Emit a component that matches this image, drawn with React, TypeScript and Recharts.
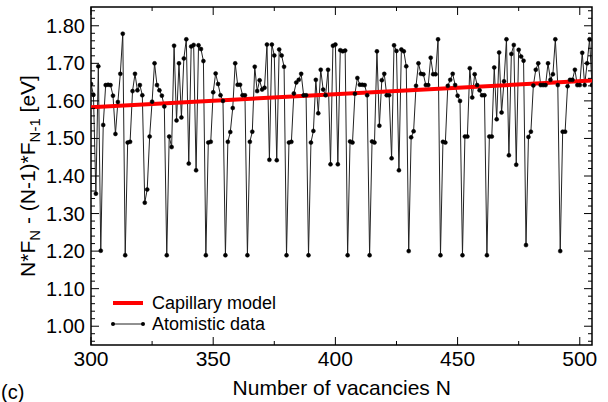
import React from 'react';
import { LineChart, Line, XAxis, YAxis, ReferenceArea, Legend } from 'recharts';

// atomistic data: one value per vacancy count, N = 300 ... 505
const N_START = 300;
const atomisticValues = [
  1.645, 1.616, 1.353, 1.692, 1.201, 1.536, 1.642, 1.643, 1.642, 1.614,
  1.512, 1.597, 1.672, 1.779, 1.189, 1.489, 1.491, 1.626, 1.672, 1.628,
  1.642, 1.615, 1.329, 1.364, 1.505, 1.598, 1.700, 1.642, 1.628, 1.614,
  1.585, 1.189, 1.505, 1.477, 1.747, 1.548, 1.700, 1.556, 1.713, 1.764,
  1.433, 1.745, 1.749, 1.415, 1.748, 1.738, 1.706, 1.189, 1.489, 1.491,
  1.623, 1.673, 1.645, 1.615, 1.600, 1.189, 1.491, 1.517, 1.581, 1.700,
  1.643, 1.643, 1.615, 1.615, 1.189, 1.491, 1.518, 1.691, 1.626, 1.655,
  1.630, 1.635, 1.750, 1.443, 1.750, 1.721, 1.442, 1.737, 1.721, 1.691,
  1.189, 1.489, 1.491, 1.620, 1.649, 1.656, 1.672, 1.615, 1.615, 1.189,
  1.489, 1.520, 1.656, 1.567, 1.683, 1.630, 1.615, 1.683, 1.431, 1.747,
  1.750, 1.431, 1.735, 1.732, 1.734, 1.189, 1.492, 1.489, 1.619, 1.661,
  1.643, 1.643, 1.642, 1.615, 1.189, 1.492, 1.489, 1.732, 1.534, 1.655,
  1.672, 1.615, 1.615, 1.447, 1.748, 1.733, 1.415, 1.737, 1.732, 1.692,
  1.200, 1.503, 1.519, 1.640, 1.700, 1.672, 1.671, 1.642, 1.642, 1.715,
  1.671, 1.671, 1.764, 1.189, 1.491, 1.489, 1.640, 1.656, 1.672, 1.642,
  1.614, 1.600, 1.189, 1.505, 1.505, 1.687, 1.609, 1.671, 1.642, 1.628,
  1.615, 1.615, 1.189, 1.505, 1.505, 1.689, 1.551, 1.729, 1.569, 1.652,
  1.764, 1.455, 1.725, 1.749, 1.430, 1.736, 1.718, 1.707, 1.216, 1.504,
  1.518, 1.641, 1.683, 1.700, 1.642, 1.642, 1.642, 1.700, 1.656, 1.671,
  1.764, 1.642, 1.200, 1.518, 1.518, 1.639, 1.656, 1.656, 1.683, 1.642,
  1.642, 1.728, 1.642, 1.700, 1.764, 1.642,
];

// capillary model, read at both ends of the plot
const capillaryN = [300, 505];
const capillaryValues = [1.583, 1.654];

const xMajorTicks = [300, 350, 400, 450, 500];
const xMinorTicks = [325, 375, 425, 475];
const yMajorTicks = [1.0, 1.1, 1.2, 1.3, 1.4, 1.5, 1.6, 1.7, 1.8];

const atomisticData = atomisticValues.map((v, i) => ({ n: N_START + i, value: v }));
const capillaryData = capillaryN.map((n, i) => ({ n, value: capillaryValues[i] }));

const yMinorTicks: number[] = [];
for (let k = 48; k <= 92; k++) yMinorTicks.push(k / 50);

const FONT = '"Liberation Sans", Arial, Helvetica, sans-serif';
const W = 608;
const H = 402;
const PLOT = { left: 91, right: 592, top: 7, bottom: 345 };

const isMajorY = (v: number) => yMajorTicks.some(t => Math.abs(t - v) < 1e-6);

const XTick = (props: any) => {
  const { x, payload } = props;
  const major = xMajorTicks.includes(payload.value);
  const len = major ? 8 : 4;
  return (
    <g>
      <line x1={x} x2={x} y1={PLOT.bottom} y2={PLOT.bottom - len} stroke="#000" />
      <line x1={x} x2={x} y1={PLOT.top} y2={PLOT.top + len} stroke="#000" />
      {major && (
        <text x={x} y={366} textAnchor="middle" fontSize={21} fontFamily={FONT} fill="#000">
          {payload.value}
        </text>
      )}
    </g>
  );
};

const YTick = (props: any) => {
  const { y, payload } = props;
  const major = isMajorY(payload.value);
  const len = major ? 8 : 4;
  return (
    <g>
      <line x1={PLOT.left} x2={PLOT.left + len} y1={y} y2={y} stroke="#000" />
      <line x1={PLOT.right} x2={PLOT.right - len} y1={y} y2={y} stroke="#000" />
      {major && (
        <text x={PLOT.left - 6} y={y + 7} textAnchor="end" fontSize={20} fontFamily={FONT} fill="#000">
          {payload.value.toFixed(2)}
        </text>
      )}
    </g>
  );
};

const YTitle = () => (
  <text
    transform="translate(35, 176) rotate(-90)"
    textAnchor="middle"
    fontSize={21}
    fontFamily={FONT}
    fill="#000"
  >
    <tspan>N*F</tspan>
    <tspan fontSize={15} dy={5}>N</tspan>
    <tspan dy={-5}> - (N-1)*F</tspan>
    <tspan fontSize={15} dy={5}>N-1</tspan>
    <tspan dy={-5}> [eV]</tspan>
  </text>
);

const XTitle = () => (
  <g>
    <text x={341.7} y={395} textAnchor="middle" fontSize={21} fontFamily={FONT} fill="#000">
      Number of vacancies N
    </text>
    <text x={1} y={399} fontSize={20} fontFamily={FONT} fill="#000">
      (c)
    </text>
  </g>
);

const LegendBox = () => (
  <svg width={200} height={48} style={{ display: 'block' }}>
    <line x1={5} x2={35} y1={13} y2={13} stroke="#ff0000" strokeWidth={4} />
    <text x={44} y={13} dominantBaseline="central" fontSize={18} fontFamily={FONT} fill="#000">
      Capillary model
    </text>
    <line x1={5} x2={35} y1={34} y2={34} stroke="#222" strokeWidth={1} />
    <circle cx={5} cy={34} r={2} fill="#000" />
    <circle cx={35} cy={34} r={2} fill="#000" />
    <text x={44} y={34} dominantBaseline="central" fontSize={18} fontFamily={FONT} fill="#000">
      Atomistic data
    </text>
  </svg>
);

export default function App() {
  return (
    <div style={{ position: 'absolute', left: 0, top: 0, width: W, height: H, background: '#fff' }}>
      <LineChart width={W} height={H} margin={{ top: PLOT.top, right: W - PLOT.right, bottom: 0, left: 0 }}>
        <XAxis
          dataKey="n"
          type="number"
          domain={[300, 505]}
          ticks={[...xMajorTicks, ...xMinorTicks]}
          interval={0}
          axisLine={false}
          tickLine={false}
          tick={<XTick />}
          height={H - PLOT.bottom}
          allowDataOverflow
          label={<XTitle />}
        />
        <YAxis
          type="number"
          domain={[0.95, 1.85]}
          ticks={yMinorTicks}
          interval={0}
          axisLine={false}
          tickLine={false}
          tick={<YTick />}
          width={PLOT.left}
          allowDataOverflow
          label={<YTitle />}
        />
        <ReferenceArea x1={300} x2={505} y1={0.95} y2={1.85} fill="none" stroke="#000" strokeWidth={1.5} />
        <Legend
          layout="horizontal"
          verticalAlign="middle"
          align="center"
          content={() => <LegendBox />}
          wrapperStyle={{ left: 108, top: 290, width: 200, height: 48 }}
        />
        <Line
          data={atomisticData}
          dataKey="value"
          type="linear"
          stroke="#222"
          strokeWidth={1}
          dot={{ r: 2, fill: '#000', stroke: '#000', strokeWidth: 0.5 }}
          isAnimationActive={false}
        />
        <Line
          data={capillaryData}
          dataKey="value"
          type="linear"
          stroke="#ff0000"
          strokeWidth={4}
          dot={false}
          isAnimationActive={false}
        />
      </LineChart>
    </div>
  );
}
